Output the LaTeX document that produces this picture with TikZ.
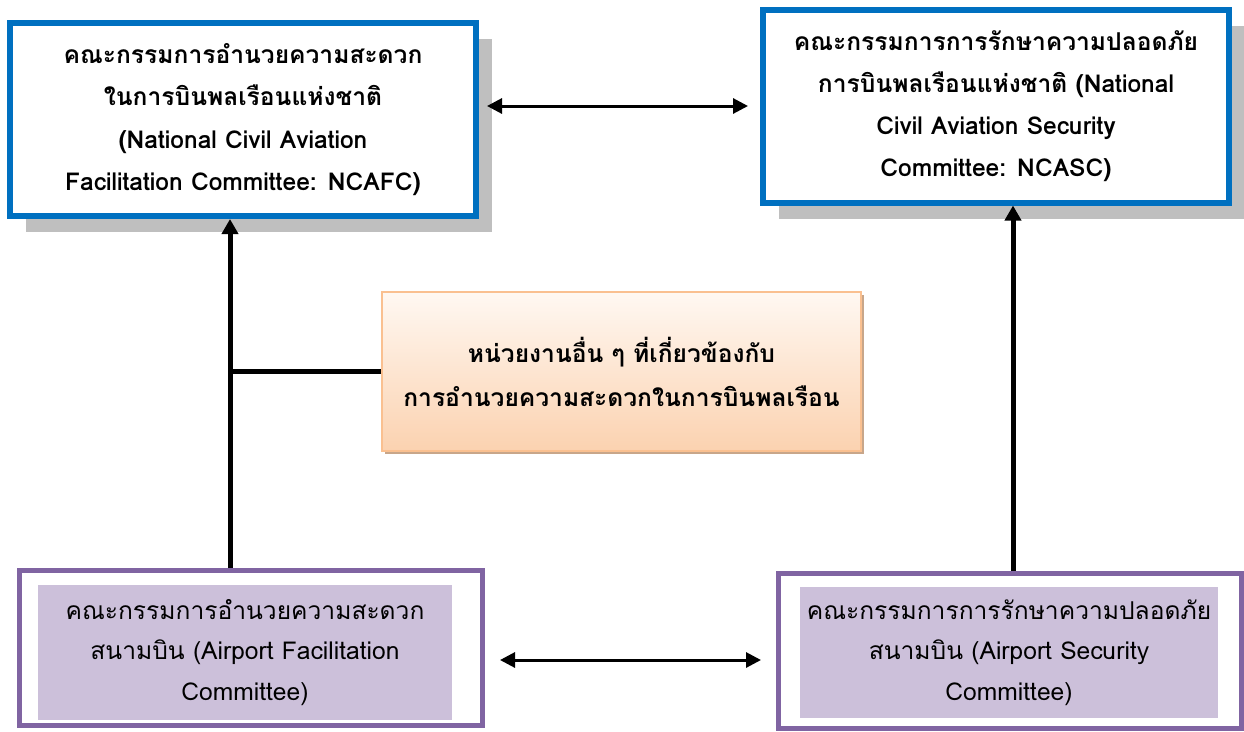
\documentclass[tikz,border=0pt]{standalone}
\usepackage{fontspec}
\setmainfont[Script=Thai]{Loma}
\usetikzlibrary{arrows.meta,shadows}
\newcommand\pxu{0.02cm}
\definecolor{boxblue}{HTML}{0070C0}
\definecolor{shadowgray}{HTML}{BFBFBF}
\definecolor{peachline}{HTML}{FAC090}
\definecolor{peachtop}{HTML}{FFF8F2}
\definecolor{peachbot}{HTML}{FBD2B0}
\definecolor{peachshadow}{HTML}{C8A68A}
\definecolor{boxpurple}{HTML}{8064A2}
\definecolor{lavender}{HTML}{CCC0DA}

\begin{document}
\begin{tikzpicture}[x=0.02cm,y=-0.02cm,
	natbox/.style={draw=boxblue, line width=6*\pxu, fill=white, minimum width=466*\pxu, minimum height=193*\pxu, align=center, font=\bfseries\fontsize{14}{24}\selectfont, drop shadow={shadow xshift=16*\pxu, shadow yshift=-16*\pxu, fill=shadowgray, opacity=1}},
	otherbox/.style={draw=peachline, line width=2*\pxu, top color=peachtop, bottom color=peachbot, minimum width=479*\pxu, minimum height=159*\pxu, align=center, font=\bfseries\fontsize{14}{25}\selectfont, drop shadow={shadow xshift=3*\pxu, shadow yshift=-3*\pxu, fill=peachshadow, opacity=1}},
	aptframe/.style={draw=boxpurple, line width=5*\pxu, fill=white, minimum width=463*\pxu, minimum height=155*\pxu},
	aptbox/.style={fill=lavender, align=center, font=\fontsize{14}{23}\selectfont},
	dblarrow/.style={line width=3*\pxu, {Triangle[length=0.3cm,width=0.3cm]}-{Triangle[length=0.3cm,width=0.3cm]}},
	uparrow/.style={line width=5*\pxu, -{Triangle[length=0.3cm,width=0.32cm]}},
	link/.style={line width=5*\pxu}]
			\useasboundingbox (0,0) rectangle (1244,731);
			% national committees
			\node[natbox] (ncafc) at (243,119.5) {คณะกรรมการอำนวยความสะดวก\\ในการบินพลเรือนแห่งชาติ\\(National Civil Aviation\\Facilitation Committee: NCAFC)};
			\node[natbox] (ncasc) at (996,106) {คณะกรรมการการรักษาความปลอดภัย\\การบินพลเรือนแห่งชาติ (National\\Civil Aviation Security\\Committee: NCASC)};
			% other agencies
			\node[otherbox] (other) at (621.5,371.5) {หน่วยงานอื่น ๆ ที่เกี่ยวข้องกับ\\การอำนวยความสะดวกในการบินพลเรือน};
			% airport committees
			\node[aptframe] (afcbox) at (251,648) {};
			\node[aptbox, minimum width=414*\pxu, minimum height=135*\pxu] (afc) at (245,652.5) {คณะกรรมการอำนวยความสะดวก\\สนามบิน (Airport Facilitation\\Committee)};
			\node[aptframe] (ascbox) at (1010,651) {};
			\node[aptbox, minimum width=418*\pxu, minimum height=131*\pxu] (asc) at (1009,652.5) {คณะกรรมการการรักษาความปลอดภัย\\สนามบิน (Airport Security\\Committee)};
			% connectors
			\coordinate (afcup) at ([xshift=-21*\pxu]afcbox.north);
			\coordinate (ascup) at ([xshift=3*\pxu]ascbox.north);
			\coordinate (aptmid) at ([yshift=-12*\pxu]afcbox.east);
			\draw[dblarrow, shorten <=8*\pxu, shorten >=12*\pxu] (ncafc.east |- ncasc.west) -- (ncasc.west);
			\draw[dblarrow, shorten <=15*\pxu, shorten >=15*\pxu] (aptmid) -- (aptmid -| ascbox.west);
			\draw[uparrow] (afcup) -- (afcup |- ncafc.south);
			\draw[uparrow] (ascup) -- (ascup |- ncasc.south);
			\draw[link] (other.west) -- (other.west -| afcup);
\end{tikzpicture}
\end{document}
